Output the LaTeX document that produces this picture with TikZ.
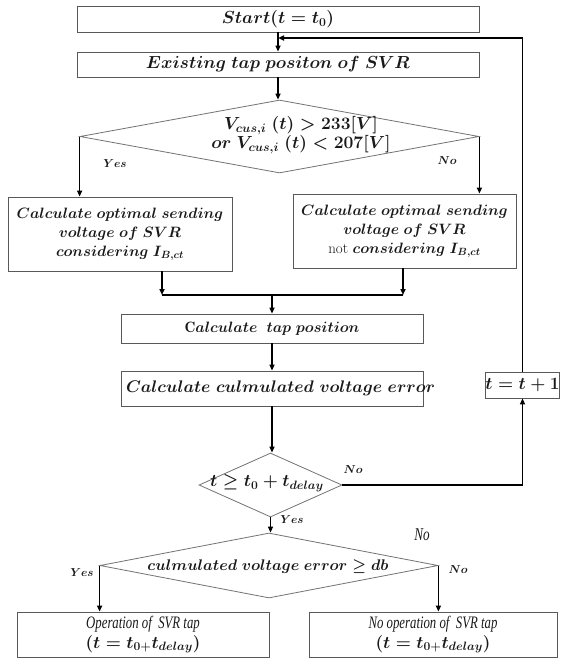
\RequirePackage{fix-cm}
\documentclass[tikz,border=0pt]{standalone}
\usepackage{fontspec}
\usetikzlibrary{shapes.geometric,arrows.meta}
\newfontfamily\condfont[FakeStretch=0.73]{Liberation Serif}
\begin{document}
\begin{tikzpicture}[x=1pt,y=-1pt,
  box/.style={draw=black!65, line width=0.8pt, rectangle, inner sep=0pt, align=center, text=black!90},
  dia/.style={draw=black!55, line width=0.8pt, diamond, inner sep=0pt},
  conn/.style={line width=1.5pt, -{Triangle[length=6pt,width=5pt]}},
  plain/.style={line width=1.5pt},
  txt/.style={inner sep=0pt, align=center, text=black!90},
  fa/.style={font=\fontsize{17.5}{21}\selectfont\boldmath},
  fb/.style={font=\fontsize{15}{19}\selectfont\boldmath},
  fc/.style={font=\fontsize{17.3}{19}\selectfont\boldmath},
  lbl/.style={inner sep=0pt, text=black!90, font=\fontsize{11.5}{13}\selectfont\boldmath},
  bigno/.style={inner sep=0pt, text=black!90, font=\fontsize{18}{20}\selectfont\condfont\itshape}
]
\fill[white] (0,0) rectangle (560,659);
\useasboundingbox (0,0) rectangle (560,659);

% boxes
\node[box, fa, minimum width=402pt, minimum height=26pt] (start) at (278,19) {$Start(t=t_0)$};
\node[box, fa, minimum width=402pt, minimum height=25pt] (exist) at (278,64.5) {$Existing\ tap\ positon\ of\ SVR$};

\node[dia, minimum width=399pt, minimum height=73pt] (d1) at (279.5,136.5) {};
\node[txt, font=\fontsize{17.5}{19}\selectfont\boldmath] (d1t) at (301,135) {$V_{cus,i}\ (t)>233[V]$\\$or\ V_{cus,i}\ (t)<207[V]$};
\node[lbl] (yes1) at (115,164) {$Yes$};
\node[lbl] (no1) at (447,161) {$No$};

\node[box, fb, minimum width=224pt, minimum height=74pt] (lbox) at (120,234)
  {$Calculate\ optimal\ sending$\\$voltage\ of\ SVR$\\$considering\ I_{B,ct}$};
\node[box, fb, minimum width=223pt, minimum height=74pt] (rbox) at (404.5,231)
  {$Calculate\ optimal\ sending$\\$voltage\ of\ SVR$\\not $considering\ I_{B,ct}$};

\coordinate (jl) at (162,295);
\coordinate (jr) at (403,295);
\coordinate (jc) at (272,295);

\node[box, font=\fontsize{15}{19}\selectfont\boldmath, minimum width=302pt, minimum height=29pt] (tap) at (272,328.5) {$\mathrm{C}alculate\ \ tap\ position$};
\node[box, font=\fontsize{16.8}{19}\selectfont\boldmath, minimum width=302pt, minimum height=35pt, text width=292pt, align=left] (culm) at (272,388.5)
  {$Calculate\ culmulated\ voltage\ error$};

\node[dia, minimum width=143pt, minimum height=64pt] (d2) at (270.5,485) {};
\node[txt, fc] (d2t) at (267,483) {$t\geq t_0+t_{delay}$};
\node[lbl] (no2) at (353,470) {$No$};

\node[box, fc, minimum width=71pt, minimum height=26pt] (tt) at (522.5,385) {$t=t+1$};
\coordinate (fbk) at (278,38);

\node[lbl] (yes2) at (292,520) {$Yes$};

\node[dia, minimum width=338pt, minimum height=65pt] (d3) at (269,565.5) {};
\node[txt, font=\fontsize{15.4}{19}\selectfont\boldmath] (d3t) at (268,567) {$culmulated\ voltage\ error\geq db$};
\node[lbl] (yes3) at (82,573) {$Yes$};
\node[lbl] (no3) at (458,570) {$No$};
\node[bigno] (no4) at (422,535) {No};

\node[box, font=\fontsize{17.3}{20}\selectfont, minimum width=252pt, minimum height=45pt] (lb2) at (143,634.5)
  {{\fontsize{17.5}{20}\selectfont\condfont\itshape Operation of\ \ SVR tap}\\{\boldmath$(t=t_{0+}t_{delay})$}};
\node[box, font=\fontsize{17.3}{20}\selectfont, minimum width=248pt, minimum height=45pt] (rb2) at (433,634.5)
  {{\fontsize{17.5}{20}\selectfont\condfont\itshape No operation of\ \ SVR tap}\\{\boldmath$(t=t_{0+}t_{delay})$}};

% connectors
\draw[conn] (start) -- (exist);
\draw[conn] (exist.south) -- (exist.south |- d1.north);
\draw[conn] (d1.west) -- (d1.west |- lbox.north);
\draw[conn] (d1.east) -- (d1.east |- rbox.north);
\draw[conn] (lbox.south -| jl) -- (jl);
\draw[conn] (rbox.south -| jr) -- (jr);
\draw[plain] (jl) -- (jr);
\draw[conn] (jc) -- (tap);
\draw[conn] (tap) -- (culm);
\draw[conn] (culm.south) -- (culm.south |- d2.north);
\draw[conn] (d2.east) -| (tt.south);
\draw[conn] (tt.north) |- (fbk);
\draw[conn] (d2.south) -- (d2.south |- d3.north);
\draw[conn] (d3.west) -- (d3.west |- lb2.north);
\draw[conn] (d3.east) -- (d3.east |- rb2.north);
\end{tikzpicture}
\end{document}
